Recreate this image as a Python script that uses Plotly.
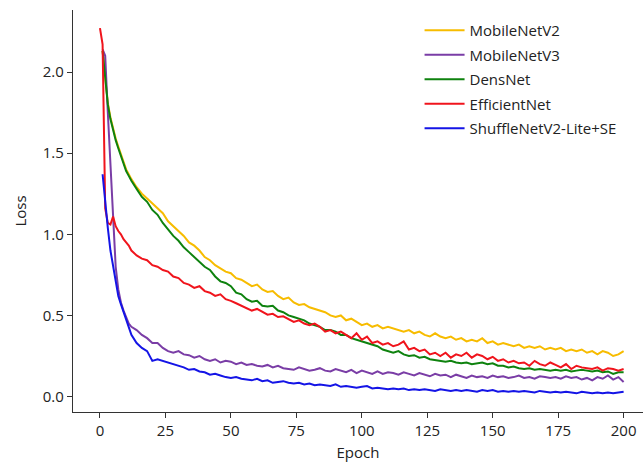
import plotly.graph_objects as go

EPOCHS = list(range(0, 13)) + list(range(14, 201, 2))

MOBILENETV2 = [
    None, 2.13, 1.96, 1.81, 1.72, 1.65, 1.59, 1.54, 1.49, 1.45, 1.40, 1.37, 1.34,
    1.29, 1.25, 1.22, 1.19, 1.16, 1.13, 1.08, 1.05, 1.02, 0.99,
    0.95, 0.93, 0.90, 0.86, 0.84, 0.81, 0.79, 0.77, 0.76, 0.73,
    0.72, 0.70, 0.68, 0.69, 0.66, 0.645, 0.65, 0.62, 0.60, 0.61,
    0.58, 0.565, 0.57, 0.55, 0.54, 0.53, 0.52, 0.50, 0.49, 0.50,
    0.47, 0.48, 0.46, 0.44, 0.45, 0.43, 0.44, 0.42, 0.43, 0.42,
    0.41, 0.40, 0.41, 0.39, 0.40, 0.38, 0.37, 0.39, 0.37, 0.36,
    0.37, 0.35, 0.36, 0.34, 0.35, 0.34, 0.36, 0.33, 0.34, 0.32,
    0.33, 0.32, 0.31, 0.32, 0.30, 0.31, 0.30, 0.31, 0.29, 0.30,
    0.29, 0.30, 0.28, 0.29, 0.28, 0.29, 0.27, 0.28, 0.26, 0.28,
    0.27, 0.25, 0.26, 0.28,
]

MOBILENETV3 = [
    None, 2.14, 2.10, 1.75, 1.40, 1.06, 0.80, 0.66, 0.58, 0.53, 0.49, 0.45, 0.43,
    0.41, 0.38, 0.36, 0.33, 0.33, 0.30, 0.28, 0.27, 0.28, 0.26,
    0.255, 0.24, 0.25, 0.23, 0.22, 0.23, 0.21, 0.22, 0.215, 0.20,
    0.21, 0.195, 0.20, 0.19, 0.185, 0.195, 0.18, 0.19, 0.175, 0.17,
    0.165, 0.18, 0.17, 0.16, 0.165, 0.175, 0.16, 0.155, 0.17, 0.16,
    0.15, 0.165, 0.145, 0.16, 0.15, 0.14, 0.155, 0.14, 0.15, 0.145,
    0.135, 0.15, 0.14, 0.13, 0.145, 0.135, 0.125, 0.14, 0.13, 0.135,
    0.12, 0.135, 0.125, 0.115, 0.13, 0.12, 0.125, 0.115, 0.13, 0.12,
    0.125, 0.115, 0.12, 0.13, 0.115, 0.12, 0.11, 0.125, 0.12, 0.115,
    0.12, 0.11, 0.125, 0.115, 0.12, 0.105, 0.115, 0.10, 0.12, 0.11,
    0.13, 0.105, 0.12, 0.09,
]

DENSNET = [
    None, 2.13, 1.97, 1.80, 1.71, 1.64, 1.58, 1.53, 1.48, 1.44, 1.39, 1.36, 1.33,
    1.28, 1.23, 1.20, 1.15, 1.12, 1.07, 1.03, 0.99, 0.96, 0.92,
    0.89, 0.86, 0.83, 0.80, 0.78, 0.74, 0.71, 0.70, 0.68, 0.64,
    0.63, 0.60, 0.585, 0.59, 0.56, 0.555, 0.56, 0.53, 0.52, 0.50,
    0.49, 0.48, 0.47, 0.45, 0.44, 0.43, 0.41, 0.41, 0.40, 0.38,
    0.38, 0.36, 0.35, 0.34, 0.33, 0.32, 0.31, 0.29, 0.28, 0.27,
    0.28, 0.26, 0.25, 0.255, 0.24, 0.245, 0.23, 0.225, 0.22, 0.215,
    0.22, 0.21, 0.205, 0.21, 0.20, 0.205, 0.21, 0.20, 0.205, 0.19,
    0.19, 0.18, 0.185, 0.175, 0.17, 0.175, 0.165, 0.17, 0.165, 0.16,
    0.165, 0.16, 0.165, 0.155, 0.16, 0.165, 0.16, 0.155, 0.16, 0.15,
    0.155, 0.14, 0.15, 0.15,
]

EFFICIENTNET = [
    2.27, 2.17, 1.16, 1.07, 1.06, 1.11, 1.05, 1.02, 1.00, 0.97, 0.95, 0.93, 0.90,
    0.87, 0.85, 0.84, 0.81, 0.80, 0.78, 0.77, 0.74, 0.73, 0.70,
    0.69, 0.67, 0.68, 0.65, 0.64, 0.62, 0.63, 0.60, 0.59, 0.575,
    0.56, 0.55, 0.53, 0.54, 0.52, 0.505, 0.51, 0.49, 0.495, 0.48,
    0.46, 0.47, 0.45, 0.44, 0.45, 0.43, 0.40, 0.41, 0.39, 0.40,
    0.38, 0.36, 0.39, 0.35, 0.37, 0.33, 0.34, 0.32, 0.33, 0.31,
    0.32, 0.34, 0.29, 0.30, 0.28, 0.29, 0.26, 0.27, 0.25, 0.27,
    0.24, 0.26, 0.25, 0.27, 0.24, 0.26, 0.25, 0.23, 0.245, 0.22,
    0.23, 0.21, 0.22, 0.205, 0.21, 0.19, 0.22, 0.20, 0.19, 0.21,
    0.195, 0.18, 0.20, 0.17, 0.19, 0.18, 0.175, 0.17, 0.18, 0.16,
    0.175, 0.17, 0.16, 0.17,
]

SHUFFLENET = [
    None, 1.37, 1.18, 1.04, 0.90, 0.80, 0.70, 0.62, 0.57, 0.52, 0.47, 0.42, 0.38,
    0.33, 0.30, 0.28, 0.22, 0.23, 0.22, 0.21, 0.20, 0.19, 0.18,
    0.165, 0.17, 0.155, 0.15, 0.135, 0.14, 0.13, 0.12, 0.115, 0.12,
    0.11, 0.105, 0.10, 0.11, 0.095, 0.10, 0.085, 0.09, 0.095, 0.085,
    0.08, 0.085, 0.075, 0.08, 0.07, 0.075, 0.07, 0.065, 0.075, 0.06,
    0.065, 0.06, 0.055, 0.06, 0.065, 0.05, 0.055, 0.05, 0.045, 0.05,
    0.045, 0.05, 0.04, 0.045, 0.04, 0.045, 0.04, 0.035, 0.045, 0.04,
    0.035, 0.04, 0.035, 0.04, 0.035, 0.03, 0.04, 0.035, 0.04, 0.03,
    0.035, 0.03, 0.035, 0.03, 0.035, 0.03, 0.025, 0.035, 0.03, 0.025,
    0.03, 0.025, 0.03, 0.025, 0.02, 0.03, 0.025, 0.02, 0.025, 0.02,
    0.025, 0.02, 0.025, 0.03,
]

SERIES = [
    ("MobileNetV2", MOBILENETV2, "#F7BC00"),
    ("MobileNetV3", MOBILENETV3, "#7A3DA6"),
    ("DensNet", DENSNET, "#0E820E"),
    ("EfficientNet", EFFICIENTNET, "#F0141C"),
    ("ShuffleNetV2-Lite+SE", SHUFFLENET, "#1414E6"),
]

X_TICKS = [0, 25, 50, 75, 100, 125, 150, 175, 200]
Y_TICKS = [0.0, 0.5, 1.0, 1.5, 2.0]

FONT = "Open Sans"
FS = 15

fig = go.Figure()
for name, vals, color in SERIES:
    fig.add_trace(go.Scatter(
        x=EPOCHS, y=vals, name=name, mode="lines",
        line=dict(color=color, width=2),
        connectgaps=False, legendgroup=name,
    ))

axis_common = dict(
    showline=True, linecolor="#333333", linewidth=1.3,
    ticks="outside", ticklen=5, tickwidth=1.2, tickcolor="#333333",
    showgrid=False, zeroline=False,
    tickfont=dict(family=FONT, size=FS, color="#222222"),
)

fig.update_layout(
    width=643, height=466,
    margin=dict(l=73, r=0, t=10, b=54),
    plot_bgcolor="white", paper_bgcolor="white",
    font=dict(family=FONT, size=FS, color="#222222"),
    xaxis=dict(
        range=[-10.3, 207.4], tickvals=X_TICKS,
        title=dict(text="Epoch", font=dict(family=FONT, size=FS, color="#222222"), standoff=8),
        **axis_common,
    ),
    yaxis=dict(
        range=[-0.095, 2.382], tickvals=Y_TICKS, tickformat=".1f",
        title=dict(text="Loss", font=dict(family=FONT, size=FS, color="#222222"), standoff=12),
        **axis_common,
    ),
    legend=dict(
        x=0.608, y=0.99, xanchor="left", yanchor="top",
        bgcolor="rgba(255,255,255,0)", borderwidth=0,
        font=dict(family=FONT, size=FS, color="#222222"),
        itemwidth=40, tracegroupgap=2,
    ),
    showlegend=True,
)

fig.write_html("out.html")
